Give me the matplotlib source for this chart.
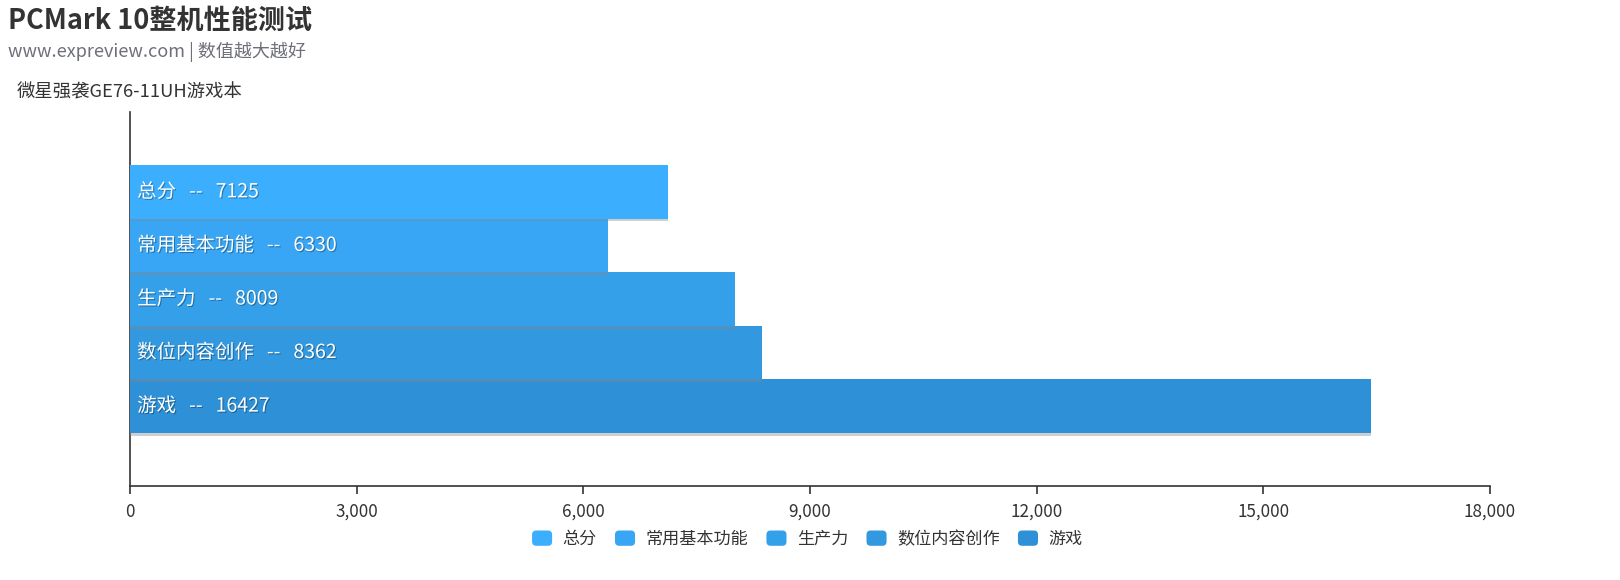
import matplotlib.pyplot as plt
import matplotlib.patheffects as pe
from matplotlib.patches import FancyBboxPatch
from matplotlib.legend_handler import HandlerPatch
from matplotlib.ticker import FuncFormatter

plt.rcParams['font.family'] = ['Noto Sans CJK SC', 'DejaVu Sans']

# data
categories = ['总分', '常用基本功能', '生产力', '数位内容创作', '游戏']
scores = [7125, 6330, 8009, 8362, 16427]
colors = ['#3CAEFE', '#38A6F4', '#35A0EA', '#3298E0', '#2E90D6']
device = '微星强袭GE76-11UH游戏本'
xticks = [0, 3000, 6000, 9000, 12000, 15000, 18000]

fig = plt.figure(figsize=(16.2, 5.8), dpi=100)
ax = fig.add_axes([130 / 1620, 1 - 486 / 580, 1360 / 1620, 374 / 580])

n = len(scores)
bar_h = 0.716 / n
shadow = [pe.SimplePatchShadow(offset=(0, -2), shadow_rgbFace='#888888', alpha=0.4),
          pe.Normal()]

for i, (name, val, c) in enumerate(zip(categories, scores, colors)):
    y = ((n - 1) / 2 - i) * bar_h
    bar = ax.barh(y, val, height=bar_h, color=c, zorder=10 - i)
    for b in bar:
        b.set_path_effects(shadow)
    t = ax.text(95, y, f'{name}   --   {val}', color='white', fontsize=14,
                va='center', ha='left', zorder=20)
    t.set_path_effects([pe.SimplePatchShadow(offset=(0.8, -0.8), shadow_rgbFace='#000000', alpha=0.3),
                        pe.Normal()])

ax.set_xlim(0, 18000)
ax.set_ylim(-0.5, 0.5)
ax.set_xticks(xticks)
ax.xaxis.set_major_formatter(FuncFormatter(lambda v, p: f'{int(v):,}'))
ax.set_yticks([])
ax.tick_params(axis='x', colors='#333333', labelsize=12.3, length=6, width=1.2, pad=6)
for s in ['top', 'right']:
    ax.spines[s].set_visible(False)
ax.spines['left'].set_color('#333333')
ax.spines['bottom'].set_color('#333333')
ax.spines['left'].set_linewidth(1.2)
ax.spines['bottom'].set_linewidth(1.2)

fig.text(8 / 1620, 1 - 21 / 580, 'PCMark 10整机性能测试', fontsize=19.5, fontweight='bold',
         color='#333333', va='center', ha='left')
fig.text(8 / 1620, 1 - 52 / 580, 'www.expreview.com | 数值越大越好', fontsize=13,
         color='#6E7079', va='center', ha='left')
fig.text(17 / 1620, 1 - 92 / 580, device, fontsize=13.2, color='#333333',
         va='center', ha='left')


class RoundHandler(HandlerPatch):
    def create_artists(self, legend, orig_handle, xdescent, ydescent, width, height, fontsize, trans):
        p = FancyBboxPatch((-xdescent + 2, -ydescent), width - 4, height,
                           boxstyle='round,pad=0,rounding_size=3',
                           facecolor=orig_handle.get_facecolor(), edgecolor='none',
                           transform=trans)
        return [p]


handles = [plt.Rectangle((0, 0), 1, 1, facecolor=c) for c in colors]
leg = fig.legend(handles, categories, loc='center', bbox_to_anchor=(806 / 1620, 1 - 539 / 580),
                 ncol=n, frameon=False, fontsize=12.3, handlelength=1.5, handleheight=1.0,
                 handletextpad=0.45, columnspacing=0.9,
                 handler_map={plt.Rectangle: RoundHandler()})
for t in leg.get_texts():
    t.set_color('#333333')

fig.savefig('out.png', dpi=100)
